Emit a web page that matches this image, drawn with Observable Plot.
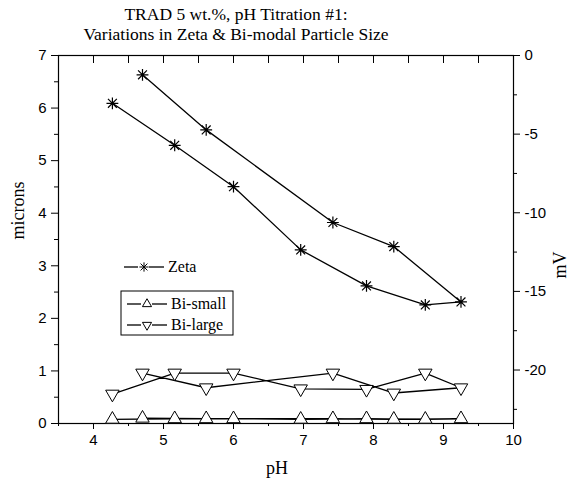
<!DOCTYPE html>
<html><head><meta charset="utf-8">
<script src="https://cdn.jsdelivr.net/npm/d3@7"></script>
<script src="https://cdn.jsdelivr.net/npm/@observablehq/plot@0.6"></script>
<style>body{margin:0;background:#fff} #chart svg{display:block}</style>
</head><body><div id="chart"></div>
<script>
// ---- data ----
const titleLines = ["TRAD 5 wt.%, pH Titration #1:", "Variations in Zeta & Bi-modal Particle Size"];
const xLabel = "pH";
const yLabel = "microns";
const y2Label = "mV";
const seriesNames = ["Zeta", "Bi-small", "Bi-large"];
// titration order (up then back down)
const pH      = [4.27, 5.16, 6.00, 6.96, 7.90, 8.74, 9.25, 8.29, 7.42, 5.61, 4.70];
const zetaMV  = [-3.04, -5.71, -8.34, -12.36, -14.65, -15.86, -15.67, -12.15, -10.62, -4.73, -1.23];
const biSmall = [0.08, 0.09, 0.09, 0.08, 0.09, 0.08, 0.09, 0.08, 0.09, 0.09, 0.10];
const biLarge = [0.56, 0.96, 0.96, 0.66, 0.65, 0.96, 0.68, 0.58, 0.96, 0.68, 0.96];
const xTicks = [4, 5, 6, 7, 8, 9, 10];
const xMinorTicks = [3.5, 4.5, 5.5, 6.5, 7.5, 8.5, 9.5];
const yTicks = [0, 1, 2, 3, 4, 5, 6, 7];
const yMinorTicks = [0.5, 1.5, 2.5, 3.5, 4.5, 5.5, 6.5];
const mvTicks = [0, -5, -10, -15, -20];
const mvMinorTicks = [-2.5, -7.5, -12.5, -17.5, -22.5];
const pHDomain = [3.5, 10];
const micronDomain = [0, 7];
const mvDomain = [-23.4, 0];

// ---- helpers ----
const toMicrons = v => (v - mvDomain[0]) / (mvDomain[1] - mvDomain[0]) * (micronDomain[1] - micronDomain[0]) + micronDomain[0];
const toMV = m => (m - micronDomain[0]) / (micronDomain[1] - micronDomain[0]) * (mvDomain[1] - mvDomain[0]) + mvDomain[0];
const rows = pH.map((x, i) => ({pH: x, zeta: toMicrons(zetaMV[i]), small: biSmall[i], large: biLarge[i]}));
const serif = "Liberation Serif, Times New Roman, serif";
const sans = "Liberation Sans, Arial, sans-serif";
const none = () => "";
const intFmt = d => String(Math.round(d));

const plot = Plot.plot({
  width: 577, height: 481,
  marginLeft: 58, marginRight: 64, marginTop: 55, marginBottom: 58,
  style: {fontFamily: sans, fontSize: "15px", color: "black", background: "white"},
  x: {domain: pHDomain},
  y: {domain: micronDomain},
  marks: [
    Plot.frame({stroke: "black", strokeWidth: 1.2}),
    // bottom axis
    Plot.axisX({ticks: xTicks, tickSize: 6, tickPadding: 5, fontSize: 15, tickFormat: intFmt, label: null}),
    Plot.axisX({ticks: xMinorTicks, tickSize: 3, tickFormat: none, label: null}),
    // top axis (inward ticks)
    Plot.axisX({anchor: "top", ticks: [...xTicks, ...xMinorTicks], tickSize: 7, dy: 7, tickFormat: none, label: null}),
    // left axis
    Plot.axisY({ticks: yTicks, tickSize: 7, tickPadding: 5, fontSize: 15, tickFormat: intFmt, label: null}),
    Plot.axisY({ticks: yMinorTicks, tickSize: 4, tickFormat: none, label: null}),
    // right axis (mV)
    Plot.axisY({anchor: "right", ticks: mvTicks.map(toMicrons), tickFormat: m => intFmt(toMV(m)),
                tickSize: 6, tickPadding: 5, fontSize: 15, label: null}),
    Plot.axisY({anchor: "right", ticks: mvMinorTicks.map(toMicrons), tickSize: 3, tickFormat: none, label: null}),
    // series lines
    Plot.line(rows, {x: "pH", y: "small", stroke: "black", strokeWidth: 1.3}),
    Plot.line(rows, {x: "pH", y: "large", stroke: "black", strokeWidth: 1.3}),
    Plot.line(rows, {x: "pH", y: "zeta", stroke: "black", strokeWidth: 1.3}),
    // markers
    Plot.dot(rows, {x: "pH", y: "small", symbol: "triangle", r: 5, fill: "white", stroke: "black", strokeWidth: 1}),
    Plot.dot(rows, {x: "pH", y: "large", symbol: "triangle", r: 5, rotate: 180, fill: "white", stroke: "black", strokeWidth: 1}),
    Plot.dot(rows, {x: "pH", y: "zeta", symbol: "plus", r: 3.9, stroke: "black", strokeWidth: 1.2}),
    Plot.dot(rows, {x: "pH", y: "zeta", symbol: "times", r: 4.1, stroke: "black", strokeWidth: 1.2}),
    Plot.dot(rows, {x: "pH", y: "zeta", r: 1.6, fill: "black", stroke: null}),
    // titles
    Plot.text([titleLines[0]], {text: d => d, frameAnchor: "top", lineAnchor: "middle", dx: -50, dy: -41.5, fontSize: 17.5, fontFamily: serif}),
    Plot.text([titleLines[1]], {text: d => d, frameAnchor: "top", lineAnchor: "middle", dx: -50, dy: -21.5, fontSize: 17.5, fontFamily: serif}),
    Plot.text([yLabel], {text: d => d, frameAnchor: "left", lineAnchor: "middle", rotate: -90, dx: -40, fontSize: 18, fontFamily: serif}),
    Plot.text([y2Label], {text: d => d, frameAnchor: "right", lineAnchor: "middle", rotate: -90, dx: 47, dy: 12, fontSize: 18, fontFamily: serif}),
    Plot.text([xLabel], {text: d => d, frameAnchor: "bottom", lineAnchor: "middle", dx: -9, dy: 45, fontSize: 18, fontFamily: serif})
  ]
});

// ---- legend overlay ----
const svg = d3.select(plot);
const lg = svg.append("g").attr("stroke", "black").attr("fill", "none");
function entry(g, x, y, sym, rot, r, name) {
  g.append("line").attr("x1", x).attr("x2", x + 14).attr("y1", y).attr("y2", y).attr("stroke-width", 1.3);
  g.append("line").attr("x1", x + 25).attr("x2", x + 40).attr("y1", y).attr("y2", y).attr("stroke-width", 1.3);
  if (sym === "star") {
    g.append("path").attr("d", d3.symbol(d3.symbolPlus, 30)()).attr("transform", `translate(${x + 20},${y})`);
    g.append("path").attr("d", d3.symbol(d3.symbolTimes, 32)()).attr("transform", `translate(${x + 20},${y})`);
  } else {
    g.append("path").attr("d", d3.symbol(d3.symbolTriangle, r)()).attr("fill", "white")
      .attr("transform", `translate(${x + 20},${y}) rotate(${rot})`);
  }
  g.append("text").attr("x", x + 44).attr("y", y).attr("dy", "0.32em").attr("stroke", "none").attr("fill", "black")
    .attr("text-anchor", "start").attr("font-family", serif).attr("font-size", 16).text(name);
}
entry(lg, 124, 267, "star", 0, 0, seriesNames[0]);
lg.append("rect").attr("x", 121).attr("y", 291).attr("width", 112).attr("height", 44).attr("stroke-width", 1);
entry(lg, 127, 304, "tri", 0, 36, seriesNames[1]);
entry(lg, 127, 325, "tri", 180, 36, seriesNames[2]);

document.getElementById("chart").appendChild(plot);
</script>
</body></html>
